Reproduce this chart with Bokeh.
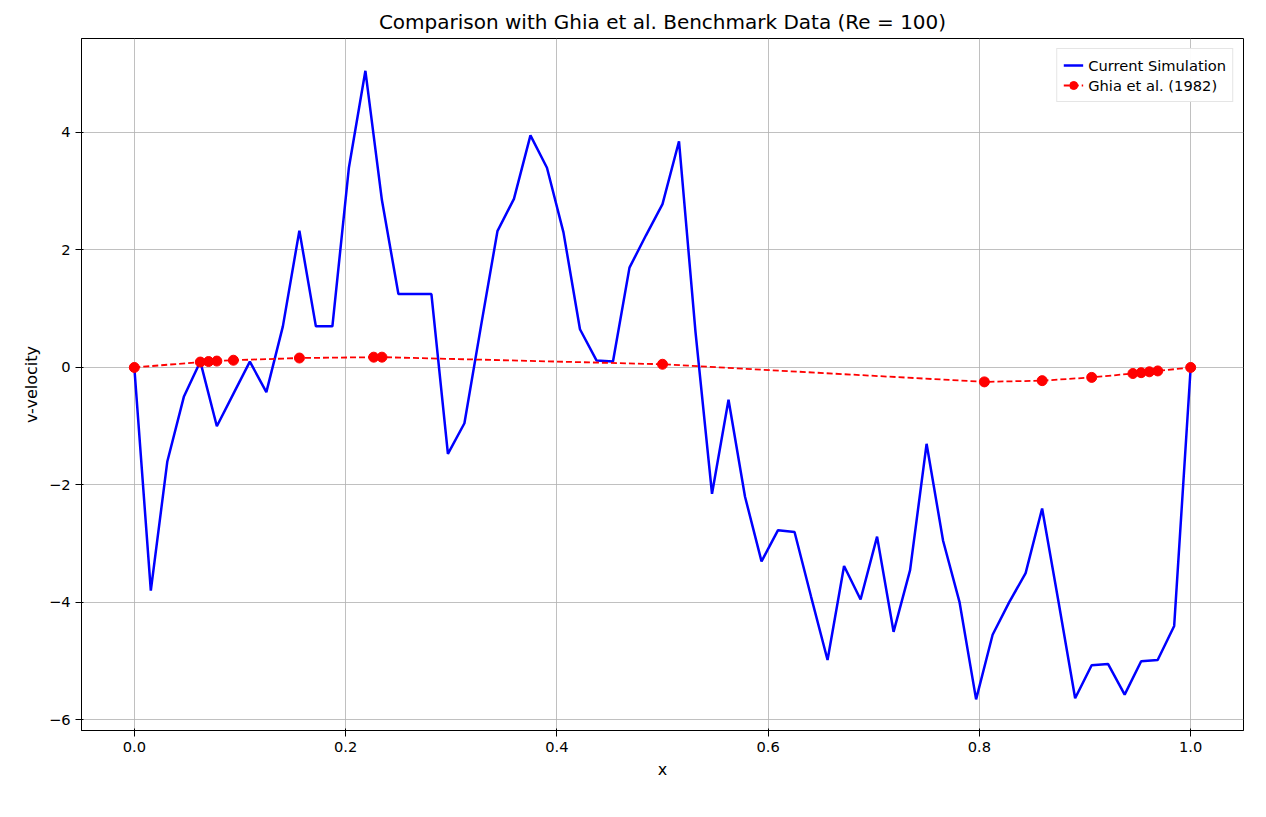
import numpy as np
from bokeh.plotting import figure
from bokeh.models import FixedTicker, Range1d
from bokeh.embed import file_html
from bokeh.resources import INLINE

# current simulation (65 grid points)
sim_x = np.linspace(0.0, 1.0, 65)
sim_v = [0.0, -3.8, -1.6, -0.5, 0.1, -1.0, -0.45, 0.1, -0.42, 0.7, 2.33, 0.7, 0.7,
         3.4, 5.05, 2.85, 1.25, 1.25, 1.25, -1.47, -0.95, 0.7, 2.32, 2.87, 3.95, 3.4,
         2.3, 0.65, 0.12, 0.1, 1.7, 2.25, 2.78, 3.85, 0.6, -2.15, -0.55, -2.2, -3.3,
         -2.77, -2.8, -3.9, -4.98, -3.38, -3.95, -2.88, -4.5, -3.45, -1.3, -2.95,
         -4.0, -5.65, -4.55, -4.0, -3.5, -2.4, -4.0, -5.63, -5.07, -5.05, -5.57,
         -5.0, -4.98, -4.4, 0.0]

# Ghia et al. (1982), Re = 100
ghia_x = [0.0, 0.0625, 0.0703, 0.0781, 0.0938, 0.1563, 0.2266, 0.2344, 0.5,
          0.8047, 0.8594, 0.9063, 0.9453, 0.9531, 0.9609, 0.9688, 1.0]
ghia_v = [0.0, 0.09233, 0.10091, 0.10890, 0.12317, 0.16077, 0.17507, 0.17527,
          0.05454, -0.24533, -0.22445, -0.16914, -0.10313, -0.08864, -0.07391,
          -0.05906, 0.0]

x_ticks = [0.0, 0.2, 0.4, 0.6, 0.8, 1.0]
y_ticks = [-6, -4, -2, 0, 2, 4]

p = figure(width=1250, height=800, output_backend="svg", toolbar_location=None,
           title="Comparison with Ghia et al. Benchmark Data (Re = 100)",
           x_axis_label="x", y_axis_label="v-velocity",
           min_border_left=81, min_border_right=7, min_border_top=38,
           min_border_bottom=70)
p.x_range = Range1d(-0.05, 1.05)
p.y_range = Range1d(-6.18, 5.6)

p.line(sim_x, sim_v, line_color="blue", line_width=2.5, legend_label="Current Simulation")
p.line(ghia_x, ghia_v, line_color="red", line_width=1.8, line_dash="6 3",
       legend_label="Ghia et al. (1982)")
p.scatter(ghia_x, ghia_v, size=10, color="red", legend_label="Ghia et al. (1982)")

p.title.align = "center"
p.title.text_font_size = "15pt"
p.title.text_font_style = "normal"
p.title.text_font = "DejaVu Sans"
p.title.text_color = "black"
for ax in (p.xaxis, p.yaxis):
    ax.axis_label_text_font_style = "normal"
    ax.axis_label_text_font_size = "12pt"
    ax.axis_label_text_font = "DejaVu Sans"
    ax.axis_label_text_color = "black"
    ax.major_label_text_font_size = "11pt"
    ax.major_label_text_font = "DejaVu Sans"
    ax.major_label_text_color = "black"
    ax.axis_line_color = "black"
    ax.major_tick_line_color = "black"
    ax.minor_tick_line_color = None
p.xaxis.ticker = FixedTicker(ticks=x_ticks)
p.yaxis.ticker = FixedTicker(ticks=y_ticks)
p.xaxis.major_label_overrides = {t: f"{t:.1f}" for t in x_ticks}
p.yaxis.major_label_overrides = {t: str(t).replace("-", "\u2212") for t in y_ticks}
p.grid.grid_line_color = "#b0b0b0"
p.grid.grid_line_alpha = 0.8
p.outline_line_color = "black"

p.legend.location = "top_right"
p.legend.label_text_font_size = "11pt"
p.legend.label_text_font = "DejaVu Sans"
p.legend.label_text_color = "black"
p.legend.border_line_color = "#cccccc"
p.legend.spacing = 0
p.legend.padding = 6

open("out.html", "w").write(file_html(p, INLINE))
